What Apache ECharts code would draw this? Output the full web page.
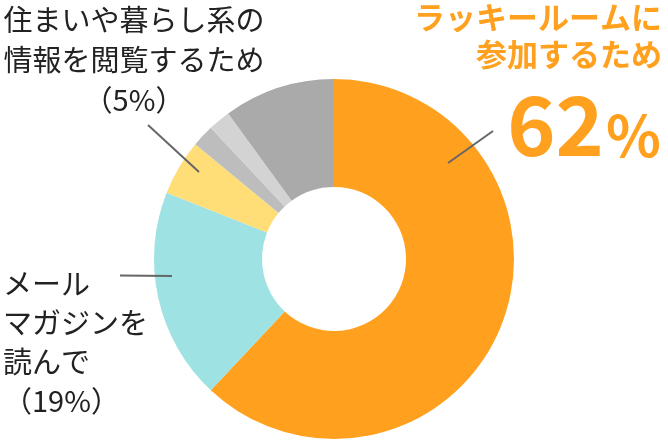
<!DOCTYPE html>
<html><head><meta charset="utf-8">
<script src="https://cdn.jsdelivr.net/npm/echarts@6/dist/echarts.min.js"></script>
<style>html,body{margin:0;padding:0;background:#fff}#c{width:668px;height:440px}</style>
</head><body><div id="c"></div>
<script>
const categories = ['ラッキールームに参加するため', 'メールマガジンを読んで', '住まいや暮らし系の情報を閲覧するため', 'その他A', 'その他B', 'その他C'];
const values = [62, 19, 5, 2, 2, 10];
const colors = ['#FFA11E', '#9EE2E3', '#FFDD77', '#BDBDBD', '#D3D3D3', '#AAAAAA'];

const chart = echarts.init(document.getElementById('c'), null, {renderer: 'canvas'});
const font = '"Noto Sans CJK JP", "Noto Sans", sans-serif';
const lineColor = '#666';
chart.setOption({
  animation: false,
  series: [{
    type: 'pie',
    z: 1,
    center: [334, 259],
    radius: [72, 180],
    startAngle: 90,
    clockwise: true,
    label: {show: false},
    labelLine: {show: false},
    emphasis: {disabled: true},
    itemStyle: {borderWidth: 0},
    data: categories.map((n, i) => ({name: n, value: values[i], itemStyle: {color: colors[i]}}))
  }],
  graphic: {
    elements: [
      {type: 'line', z: 100, shape: {x1: 448, y1: 163, x2: 493, y2: 131}, style: {stroke: lineColor, lineWidth: 2}},
      {type: 'line', z: 100, shape: {x1: 199, y1: 172, x2: 148, y2: 125}, style: {stroke: lineColor, lineWidth: 2}},
      {type: 'line', z: 100, shape: {x1: 120, y1: 275.5, x2: 172, y2: 276}, style: {stroke: lineColor, lineWidth: 2}},
      {type: 'text', z: 100, x: 662, y: -1, style: {text: 'ラッキールームに\n参加するため', font: 'bold 31px ' + font, fill: '#FFA11E', align: 'right', verticalAlign: 'top', lineHeight: 37}},
      {type: 'text', z: 100, x: 604, y: 166, style: {text: '62', font: 'bold 82px ' + font, fill: '#FFA11E', align: 'right', verticalAlign: 'bottom'}},
      {type: 'text', z: 100, x: 606, y: 164, style: {text: '%', font: 'bold 57px ' + font, fill: '#FFA11E', align: 'left', verticalAlign: 'bottom'}},
      {type: 'text', z: 100, x: 134, y: 0, style: {text: '住まいや暮らし系の\n情報を閲覧するため\n（5%）', font: '29px ' + font, fill: '#222', align: 'center', verticalAlign: 'top', lineHeight: 40}},
      {type: 'text', z: 100, x: 3, y: 264, style: {text: 'メール\nマガジンを\n読んで\n（19%）', font: '29px ' + font, fill: '#222', align: 'left', verticalAlign: 'top', lineHeight: 39}}
    ]
  }
});
</script></body></html>
